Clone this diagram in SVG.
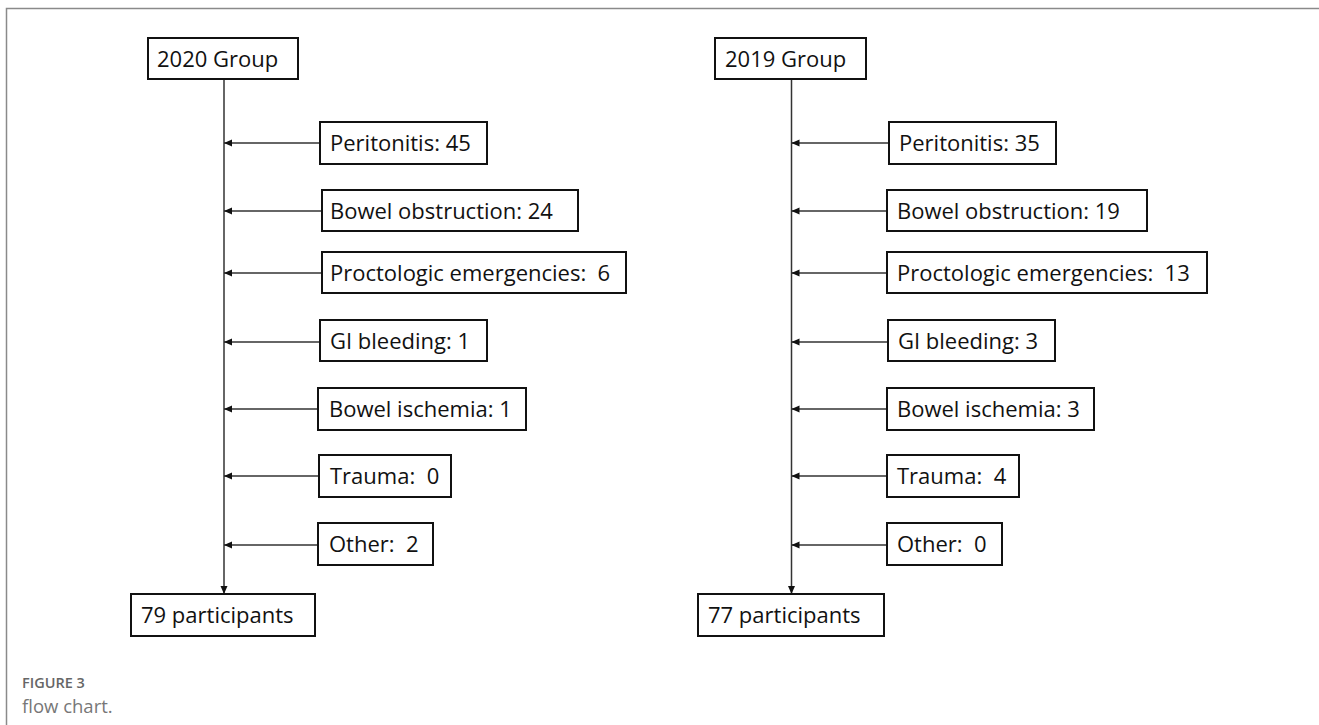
<svg xmlns="http://www.w3.org/2000/svg" width="1319" height="725" viewBox="0 0 1319 725">
<style>
.box{fill:#fff;stroke:#111;stroke-width:2}
.t{font-family:"Open Sans","Liberation Sans",sans-serif;font-size:22px;fill:#111;white-space:pre}
.ln{stroke:#333;stroke-width:1.5;fill:none}
.frame{stroke:#8a8a8a;stroke-width:1.5;fill:none}
.cap1{font-family:"Open Sans","Liberation Sans",sans-serif;font-size:14.5px;font-weight:600;fill:#666}
.cap2{font-family:"Open Sans","Liberation Sans",sans-serif;font-size:18.5px;fill:#777}
</style>
<defs>
<marker id="ah" viewBox="0 0 8 8" refX="8" refY="4" markerWidth="8" markerHeight="8" markerUnits="userSpaceOnUse" orient="auto">
<path d="M0,0.5 L8,4 L0,7.5 Z" fill="#111"/>
</marker>
</defs>
<rect x="0" y="0" width="1319" height="725" fill="#fff"/>
<path class="frame" d="M6.5,725 V8.5 H1319"/>

<g id="connectors">
<line class="ln" x1="224" y1="79" x2="224" y2="594" marker-end="url(#ah)"/>
<line class="ln" x1="320" y1="143" x2="224" y2="143" marker-end="url(#ah)"/>
<line class="ln" x1="322" y1="211" x2="224" y2="211" marker-end="url(#ah)"/>
<line class="ln" x1="322" y1="273" x2="224" y2="273" marker-end="url(#ah)"/>
<line class="ln" x1="320" y1="342" x2="224" y2="342" marker-end="url(#ah)"/>
<line class="ln" x1="318" y1="409" x2="224" y2="409" marker-end="url(#ah)"/>
<line class="ln" x1="319" y1="476" x2="224" y2="476" marker-end="url(#ah)"/>
<line class="ln" x1="318" y1="545" x2="224" y2="545" marker-end="url(#ah)"/>

<line class="ln" x1="791.5" y1="79" x2="791.5" y2="594" marker-end="url(#ah)"/>
<line class="ln" x1="889" y1="143" x2="791.5" y2="143" marker-end="url(#ah)"/>
<line class="ln" x1="887" y1="211" x2="791.5" y2="211" marker-end="url(#ah)"/>
<line class="ln" x1="887" y1="273" x2="791.5" y2="273" marker-end="url(#ah)"/>
<line class="ln" x1="888" y1="342" x2="791.5" y2="342" marker-end="url(#ah)"/>
<line class="ln" x1="887" y1="409" x2="791.5" y2="409" marker-end="url(#ah)"/>
<line class="ln" x1="887" y1="476" x2="791.5" y2="476" marker-end="url(#ah)"/>
<line class="ln" x1="887" y1="545" x2="791.5" y2="545" marker-end="url(#ah)"/>
</g>

<g id="g2020"><rect class="box" x="148" y="38" width="150" height="41"/><text class="t" x="157" y="66.5">2020 Group</text></g>
<g id="l-peritonitis"><rect class="box" x="320" y="122" width="167" height="42"/><text class="t" x="330" y="151">Peritonitis: 45</text></g>
<g id="l-bowel"><rect class="box" x="322" y="190" width="256" height="41"/><text class="t" x="330" y="218.5">Bowel obstruction: 24</text></g>
<g id="l-procto"><rect class="box" x="322" y="252" width="304" height="41"/><text class="t" x="330" y="280.5" xml:space="preserve">Proctologic emergencies:  6</text></g>
<g id="l-gi"><rect class="box" x="320" y="320" width="167" height="41"/><text class="t" x="330" y="348.5">GI bleeding: 1</text></g>
<g id="l-isch"><rect class="box" x="318" y="388" width="208" height="42"/><text class="t" x="329" y="417">Bowel ischemia: 1</text></g>
<g id="l-trauma"><rect class="box" x="319" y="455" width="132" height="42"/><text class="t" x="330" y="484" xml:space="preserve">Trauma:  0</text></g>
<g id="l-other"><rect class="box" x="318" y="523" width="115" height="42"/><text class="t" x="329" y="552" xml:space="preserve">Other:  2</text></g>
<g id="l-part"><rect class="box" x="131" y="594" width="184" height="42"/><text class="t" x="141" y="623">79 participants</text></g>

<g id="g2019"><rect class="box" x="715" y="38" width="151" height="41"/><text class="t" x="725" y="66.5">2019 Group</text></g>
<g id="r-peritonitis"><rect class="box" x="889" y="122" width="167" height="42"/><text class="t" x="899" y="151">Peritonitis: 35</text></g>
<g id="r-bowel"><rect class="box" x="887" y="190" width="260" height="41"/><text class="t" x="897" y="218.5">Bowel obstruction: 19</text></g>
<g id="r-procto"><rect class="box" x="887" y="252" width="320" height="41"/><text class="t" x="897" y="280.5" xml:space="preserve">Proctologic emergencies:  13</text></g>
<g id="r-gi"><rect class="box" x="888" y="320" width="167" height="41"/><text class="t" x="898" y="348.5">GI bleeding: 3</text></g>
<g id="r-isch"><rect class="box" x="887" y="388" width="207" height="42"/><text class="t" x="897" y="417">Bowel ischemia: 3</text></g>
<g id="r-trauma"><rect class="box" x="887" y="455" width="132" height="42"/><text class="t" x="897" y="484" xml:space="preserve">Trauma:  4</text></g>
<g id="r-other"><rect class="box" x="887" y="523" width="115" height="42"/><text class="t" x="897" y="552" xml:space="preserve">Other:  0</text></g>
<g id="r-part"><rect class="box" x="698" y="594" width="186" height="42"/><text class="t" x="708" y="623">77 participants</text></g>

<g id="caption">
<text class="cap1" x="22" y="688">FIGURE 3</text>
<text class="cap2" x="22" y="713">flow chart.</text>
</g>
</svg>
